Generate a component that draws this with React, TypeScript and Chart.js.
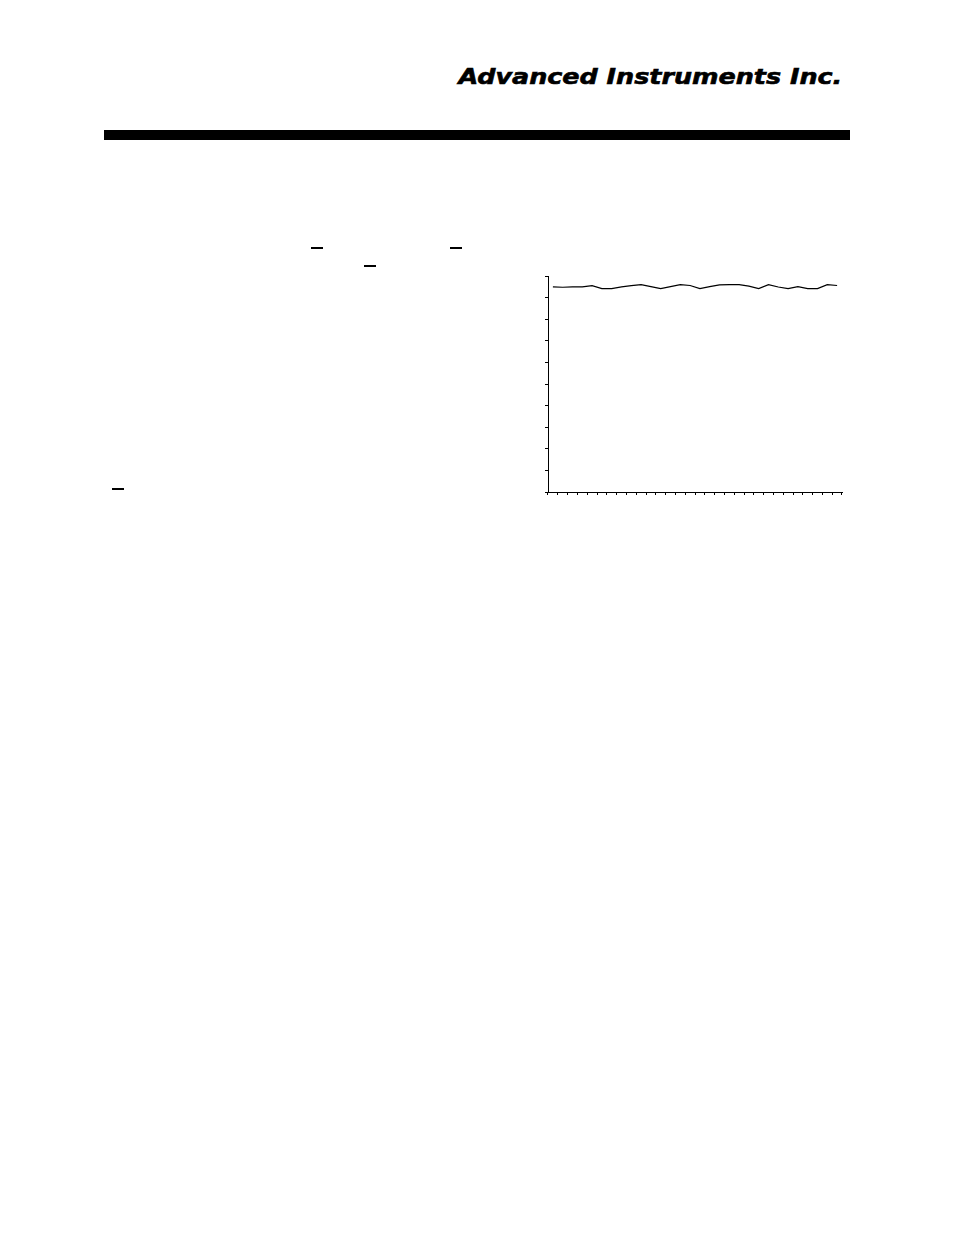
import React, { useEffect, useRef } from 'react';
import { Chart, registerables } from 'chart.js';

Chart.register(...registerables);

// 30 readings, no labels printed on the axes
const samples: string[] = Array.from({ length: 30 }, (_, i) => String(i + 1));
const readings: number[] = [
  95.0, 94.8, 95.0, 95.0, 95.5, 94.2, 94.2, 95.0, 95.5, 96.0,
  95.1, 94.2, 95.1, 96.0, 95.6, 94.2, 95.1, 95.9, 96.0, 96.0,
  95.3, 94.2, 96.0, 94.9, 94.2, 95.1, 94.2, 94.2, 96.0, 95.6,
];
const yMin = 0;
const yMax = 100;
const yStep = 10;

const TrendChart = () => {
  const chartRef = useRef<HTMLCanvasElement | null>(null);
  const chartInstance = useRef<Chart | null>(null);

  useEffect(() => {
    if (!chartRef.current) return;
    const ctx = chartRef.current.getContext('2d');
    if (!ctx) return;
    if (chartInstance.current) chartInstance.current.destroy();

    chartInstance.current = new Chart(ctx, {
      type: 'line',
      data: {
        labels: samples,
        datasets: [{
          data: readings,
          borderColor: '#000',
          borderWidth: 1.2,
          pointRadius: 0,
          tension: 0,
          fill: false,
        }],
      },
      options: {
        animation: false,
        responsive: true,
        maintainAspectRatio: false,
        layout: { padding: { left: 5, top: 6, right: 3, bottom: 0 } },
        plugins: {
          legend: { display: false },
          tooltip: { enabled: false },
        },
        scales: {
          x: {
            type: 'category',
            offset: true,
            grid: { offset: true, drawOnChartArea: false, drawTicks: true, tickLength: 3, color: '#000', lineWidth: 1 },
            border: { display: true, color: '#000', width: 1 },
            ticks: { display: false },
          },
          y: {
            min: yMin,
            max: yMax,
            grid: { drawOnChartArea: false, drawTicks: true, tickLength: 3, color: '#000', lineWidth: 1 },
            border: { display: true, color: '#000', width: 1 },
            ticks: { display: false, stepSize: yStep },
          },
        },
      },
    });

    return () => {
      if (chartInstance.current) {
        chartInstance.current.destroy();
        chartInstance.current = null;
      }
    };
  }, []);

  return (
    <div style={{ position: 'absolute', left: 540, top: 270, width: 305, height: 225 }}>
      <canvas ref={chartRef}></canvas>
    </div>
  );
};

const dash = (left: number, top: number, h: number): React.CSSProperties => ({
  position: 'absolute', left, top, width: 12, height: h, background: '#000',
});

export default function App() {
  return (
    <div style={{ position: 'absolute', left: 0, top: 0, width: 954, height: 1235, background: '#fff', overflow: 'hidden' }}>
      <div
        style={{
          position: 'absolute', right: 112, top: 65,
          fontFamily: '"DejaVu Sans", sans-serif', fontWeight: 'bold', fontStyle: 'italic',
          fontSize: 21, whiteSpace: 'nowrap', transform: 'scaleX(1.21)', transformOrigin: 'right center',
          color: '#000', WebkitTextStroke: '0.6px #000',
        }}
      >
        Advanced Instruments Inc.
      </div>
      <div style={{ position: 'absolute', left: 104, top: 130, width: 746, height: 10, background: '#000' }} />
      <div style={dash(311, 247, 2)} />
      <div style={dash(450, 247, 2)} />
      <div style={dash(364, 265, 1.5)} />
      <div style={dash(112, 488, 1.5)} />
      <TrendChart />
    </div>
  );
}
